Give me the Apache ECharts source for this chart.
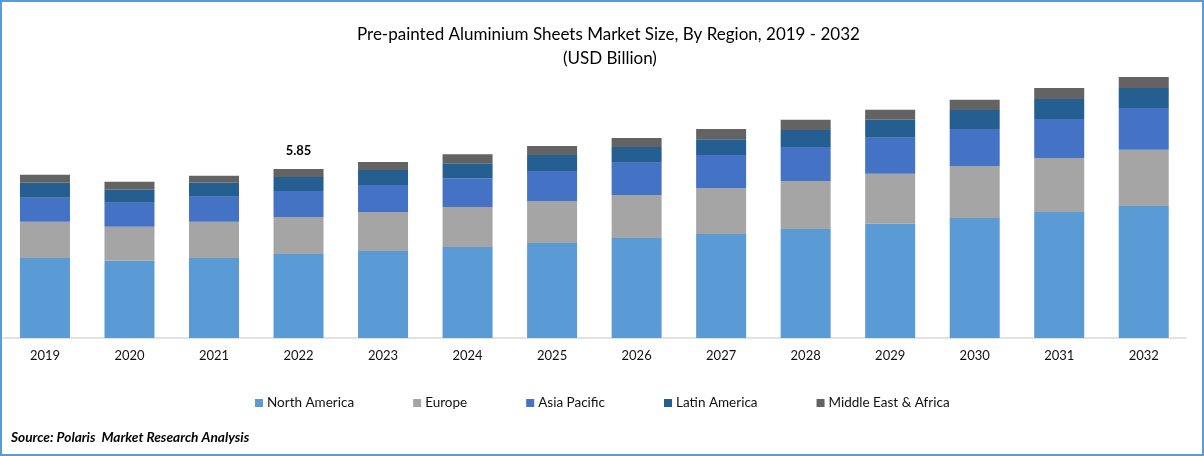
<!DOCTYPE html>
<html>
<head>
<meta charset="utf-8">
<style>
html, body { margin: 0; padding: 0; background: #fff; }
#chart { width: 1204px; height: 456px; }
</style>
<script src="https://cdn.jsdelivr.net/npm/echarts@6/dist/echarts.min.js"></script>
</head>
<body>
<div id="chart"></div>
<script>
var years = ['2019','2020','2021','2022','2023','2024','2025','2026','2027','2028','2029','2030','2031','2032'];
var northAmerica = [2.77,2.67,2.77,2.91,3.01,3.15,3.29,3.46,3.60,3.77,3.95,4.15,4.36,4.57];
var europe = [1.25,1.18,1.25,1.28,1.35,1.38,1.45,1.49,1.59,1.66,1.73,1.80,1.87,1.94];
var asiaPacific = [0.83,0.83,0.87,0.90,0.93,1.00,1.04,1.11,1.14,1.18,1.25,1.28,1.35,1.45];
var latinAmerica = [0.52,0.45,0.48,0.48,0.52,0.52,0.55,0.55,0.55,0.59,0.62,0.66,0.69,0.69];
var middleEast = [0.28,0.28,0.24,0.28,0.28,0.31,0.31,0.31,0.35,0.35,0.35,0.35,0.38,0.38];
var labelledYear = '2022';

var font = 'Lato, "Open Sans", sans-serif';
var chart = echarts.init(document.getElementById('chart'), null, { renderer: 'canvas' });

function barSeries(name, values, color) {
    return { name: name, type: 'bar', stack: 'total', barWidth: 50, data: values, itemStyle: { color: color } };
}

var series = [
    barSeries('North America', northAmerica, '#5B9BD5'),
    barSeries('Europe', europe, '#A5A5A5'),
    barSeries('Asia Pacific', asiaPacific, '#4472C4'),
    barSeries('Latin America', latinAmerica, '#255E91'),
    barSeries('Middle East & Africa', middleEast, '#636363')
];

// only one total is printed in the reference
var idx = years.indexOf(labelledYear);
var total = northAmerica[idx] + europe[idx] + asiaPacific[idx] + latinAmerica[idx] + middleEast[idx];
series[4].data = middleEast.map(function (v, i) {
    if (i !== idx) return v;
    return {
        value: v,
        label: {
            show: true, position: 'top', distance: 12,
            formatter: total.toFixed(2),
            fontFamily: font, fontSize: 13, fontWeight: 'bold', color: '#000'
        }
    };
});

chart.setOption({
    animation: false,
    backgroundColor: '#fff',
    title: [
        { text: 'Pre-painted Aluminium Sheets Market Size, By Region, 2019 - 2032', left: 352, top: 21,
          textStyle: { fontFamily: font, fontSize: 17, fontWeight: 'normal', color: '#000' } },
        { text: '(USD Billion)', left: 558, top: 45,
          textStyle: { fontFamily: font, fontSize: 17, fontWeight: 'normal', color: '#000' } },
        { text: 'Source: Polaris  Market Research Analysis', left: 6, top: 426,
          textStyle: { fontFamily: font, fontSize: 13.7, fontWeight: 'bold', fontStyle: 'italic', color: '#000' } }
    ],
    legend: {
        left: 250, top: 391, icon: 'rect', itemWidth: 8, itemHeight: 8, itemGap: 59,
        textStyle: { fontFamily: font, fontSize: 13.5, color: '#111', padding: [0, 0, 0, -1] }
    },
    grid: { left: 2.7, right: 18, top: 49, bottom: 118 },
    xAxis: {
        type: 'category', data: years,
        axisTick: { show: false },
        axisLine: { lineStyle: { color: '#D9D9D9', width: 1.5 } },
        axisLabel: { fontFamily: font, fontSize: 13, color: '#111', margin: 11 }
    },
    yAxis: { type: 'value', min: 0, max: 10, show: false, splitLine: { show: false } },
    graphic: [{
        type: 'rect', silent: true,
        shape: { x: 1, y: 1, width: 1202, height: 454 },
        style: { fill: 'none', stroke: '#5B9BD5', lineWidth: 2 }
    }],
    series: series
});
</script>
</body>
</html>
